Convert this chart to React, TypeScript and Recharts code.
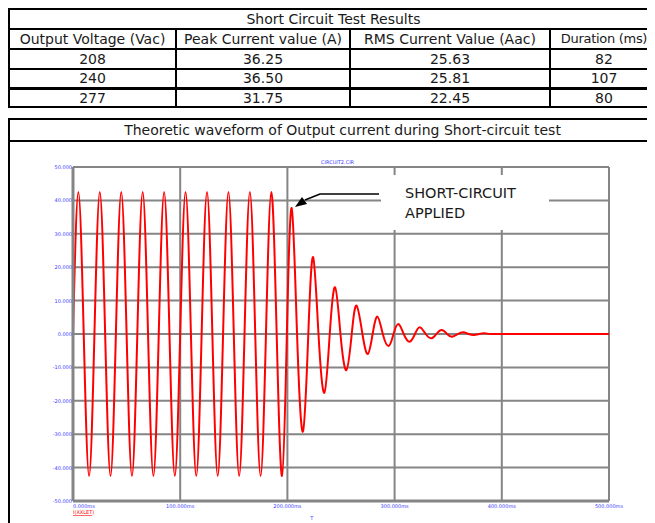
import React from "react";
import { CartesianGrid, Line, LineChart, XAxis, YAxis } from "recharts";

const tableTitle = "Short Circuit Test Results";
const tableHeaders = ["Output Voltage (Vac)", "Peak Current value (A)", "RMS Current Value (Aac)", "Duration (ms)"];
const outputVoltage = ["208", "240", "277"];
const peakCurrent = ["36.25", "36.50", "31.75"];
const rmsCurrent = ["25.63", "25.81", "22.45"];
const durationMs = ["82", "107", "80"];

const chartTitle = "Theoretic waveform of Output current during Short-circuit test";

// time (ms) of peaks, troughs and zero crossings
const timeMs = [
  0, 5, 10, 15, 20, 25, 30, 35, 40, 45, 50, 55, 60, 65, 70, 75, 80, 85, 90, 95,
  100, 105, 110, 115, 120, 125, 130, 135, 140, 145, 150, 155, 160, 165, 170, 175, 180, 185, 190, 195,
  199.5, 204, 209, 214.5, 219.5, 224, 229, 234.5, 239.5, 244.5, 249.5, 255, 260, 264.5, 270, 275,
  279.5, 284, 289, 294.5, 299, 303.5, 308.5, 314, 319, 323.5, 329, 334.5, 339, 344, 349, 353.5,
  359, 364, 369, 374, 379, 384, 389, 400, 425, 450, 475, 500,
];
// output current (A)
const currentA = [
  0, 42.5, 0, -42.5, 0, 42.5, 0, -42.5, 0, 42.5, 0, -42.5, 0, 42.5, 0, -42.5, 0, 42.5, 0, -42.5,
  0, 42.5, 0, -42.5, 0, 42.5, 0, -42.5, 0, 42.5, 0, -42.5, 0, 42.5, 0, -42.5, 0, 42.5, 0, -42.5,
  0, 37.7, 0, -29.2, 0, 23, 0, -17.6, 0, 14, 0, -10.8, 0, 8.5, 0, -6,
  0, 5.2, 0, -3.6, 0, 3, 0, -2.3, 0, 2, 0, -1.3, 0, 1.2, 0, -0.8,
  0, 0.5, 0, -0.3, 0, 0.2, 0, 0, 0, 0, 0, 0,
];

const xTicks = [0, 100, 200, 300, 400, 500];
const yTicks = [-50, -40, -30, -20, -10, 0, 10, 20, 30, 40, 50];

const waveform = timeMs.map((t, i) => ({ t, amps: currentA[i] }));

const tickBlue = "#3a3aff";
const gridGrey = "#858585";

const YTick = (props: any) => {
  const { x, y, payload } = props;
  return (
    <text x={x} y={y} dy={2} textAnchor="end" fontSize={5} fill={tickBlue} fontFamily="DejaVu Sans">
      {payload.value.toFixed(3)}
    </text>
  );
};

const XTick = (props: any) => {
  const { x, y, payload } = props;
  return (
    <text
      x={x}
      y={y}
      dy={6.5}
      textAnchor={payload.value === 0 ? "start" : "middle"}
      fontSize={5}
      fill={tickBlue}
      fontFamily="DejaVu Sans"
    >
      {payload.value.toFixed(3) + "ms"}
    </text>
  );
};

const cell = (w: number, last: boolean, tight: boolean): React.CSSProperties => ({
  width: w,
  borderRight: last ? "none" : "2px solid #000",
  textAlign: "center",
  boxSizing: "border-box",
  flexShrink: 0,
  whiteSpace: "nowrap",
  fontSize: tight ? 13 : undefined,
  letterSpacing: tight ? "-0.3px" : undefined,
});

const colWidths = [167, 174, 200, 106];

function TableRow({
  values,
  height,
  borderW = 2,
  header = false,
}: {
  values: string[];
  height: number;
  borderW?: number;
  header?: boolean;
}) {
  return (
    <div style={{ display: "flex", height, lineHeight: `${height}px`, borderBottom: `${borderW}px solid #000` }}>
      {values.map((v, i) => {
        const last = i === values.length - 1;
        return (
          <div key={i} style={cell(colWidths[i], last, header && last)}>
            {v}
          </div>
        );
      })}
    </div>
  );
}

export default function App() {
  return (
    <div
      style={{
        position: "relative",
        width: 647,
        height: 515,
        overflow: "hidden",
        fontFamily: "DejaVu Sans",
        fontSize: 14,
        color: "#1a1a1a",
      }}
    >
      <div style={{ position: "absolute", left: 0, top: 0, width: 647, border: "2px solid #000" }}>
        <div style={{ height: 18, lineHeight: "18px", textAlign: "center", borderBottom: "2px solid #000" }}>
          {tableTitle}
        </div>
        <TableRow values={tableHeaders} height={18} header />
        <TableRow values={[outputVoltage[0], peakCurrent[0], rmsCurrent[0], durationMs[0]]} height={18} />
        <TableRow values={[outputVoltage[1], peakCurrent[1], rmsCurrent[1], durationMs[1]]} height={17} borderW={3} />
        <TableRow values={[outputVoltage[2], peakCurrent[2], rmsCurrent[2], durationMs[2]]} height={16} borderW={0} />
      </div>

      <div style={{ position: "absolute", left: 0, top: 110, width: 665, height: 420, border: "2px solid #000" }}>
        <div style={{ height: 20, lineHeight: "20px", textAlign: "center", borderBottom: "2px solid #000" }}>
          {chartTitle}
        </div>
        <LineChart width={645} height={381} data={waveform} margin={{ top: 25, right: 46, bottom: 0, left: 0 }}>
          <CartesianGrid stroke={gridGrey} strokeWidth={2} />
          <XAxis
            dataKey="t"
            type="number"
            domain={[0, 500]}
            ticks={xTicks}
            height={22}
            tickSize={0}
            tickMargin={0}
            tick={<XTick />}
            axisLine={{ stroke: gridGrey, strokeWidth: 3 }}
            tickLine={false}
          />
          <YAxis
            type="number"
            domain={[-50, 50]}
            ticks={yTicks}
            width={63}
            tickSize={0}
            tickMargin={1}
            tick={<YTick />}
            axisLine={{ stroke: gridGrey, strokeWidth: 3 }}
            tickLine={false}
          />
          <Line
            type="natural"
            dataKey="amps"
            stroke="#ff0000"
            strokeWidth={2}
            dot={false}
            isAnimationActive={false}
          />
        </LineChart>
      </div>

      <svg
        width={647}
        height={515}
        style={{ position: "absolute", left: 0, top: 0, pointerEvents: "none" }}
      >
        <rect x={373} y={167} width={168} height={55} fill="#fff" />
        <text x={397} y={190} fontSize={14.5} fill="#1a1a1a" fontFamily="DejaVu Sans">
          SHORT-CIRCUIT
        </text>
        <text x={397} y={210} fontSize={14.5} fill="#1a1a1a" fontFamily="DejaVu Sans">
          APPLIED
        </text>
        <polyline points="371,186 312,186 297,192" fill="none" stroke="#000" strokeWidth={1.5} />
        <polygon points="287,199 299,196 294,189" fill="#000" />
        <text x={313} y={156} fontSize={5} fill={tickBlue} fontFamily="DejaVu Sans">
          CIRCUIT2.CIR
        </text>
        <text x={65} y={506} fontSize={5} fill="#ff0000" fontFamily="DejaVu Sans">
          I(XXLET)
        </text>
        <line x1={65} y1={507.5} x2={84} y2={507.5} stroke="#ff0000" strokeWidth={0.6} />
        <text x={303.7} y={511.5} fontSize={5} fill={tickBlue} fontFamily="DejaVu Sans" textAnchor="middle">
          T
        </text>
      </svg>
    </div>
  );
}
